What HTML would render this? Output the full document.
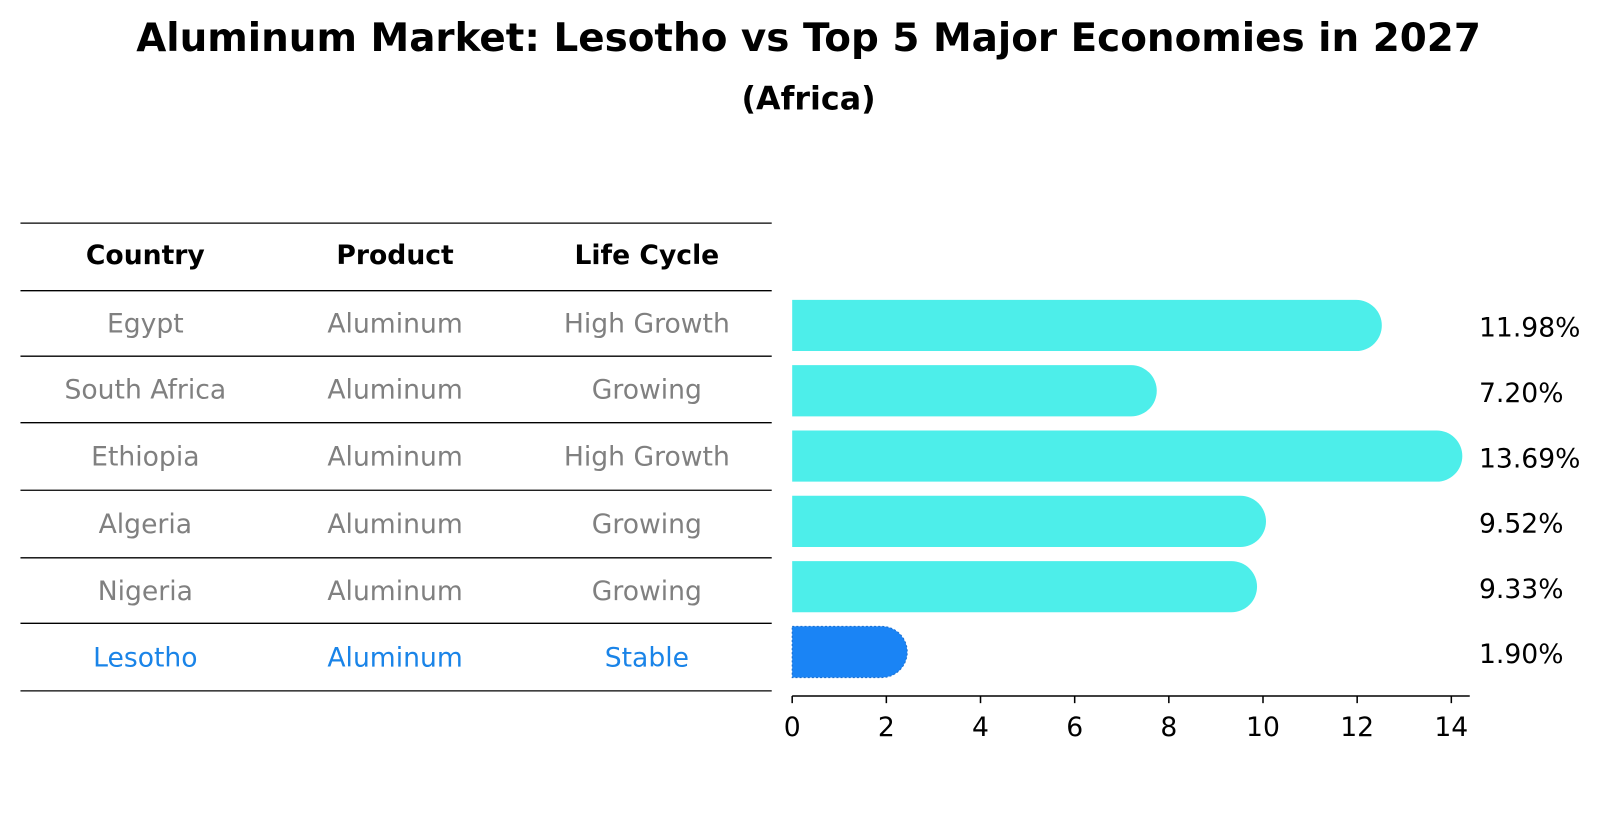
<!DOCTYPE html>
<html><head><meta charset="utf-8"><style>
body{margin:0;background:#fff;font-family:"DejaVu Sans","Liberation Sans",sans-serif;}
#wrap{position:relative;width:1604px;height:823px;overflow:hidden;}
</style></head><body>
<div id="wrap">
<svg id="svg" width="1604" height="823" font-family="DejaVu Sans, Liberation Sans, sans-serif">
<g transform="scale(1.0235)">
<text x="790" y="50" text-anchor="middle" font-size="38" font-weight="bold">Aluminum Market: Lesotho vs Top 5 Major Economies in 2027</text>
<text x="790" y="107" text-anchor="middle" font-size="31" font-weight="bold">(Africa)</text>
<g id="table"></g>
<g id="bars"></g>
</g>
</svg>
</div>
<script>
const countries=["Egypt","South Africa","Ethiopia","Algeria","Nigeria","Lesotho"];
const products=["Aluminum","Aluminum","Aluminum","Aluminum","Aluminum","Aluminum"];
const lifecycles=["High Growth","Growing","High Growth","Growing","Growing","Stable"];
const values=[11.98,7.20,13.69,9.52,9.33,1.90];
const valueLabels=["11.98%","7.20%","13.69%","9.52%","9.33%","1.90%"];
const ticks=[0,2,4,6,8,10,12,14];
const NS="http://www.w3.org/2000/svg";
function mk(tag,attrs,parent){const e=document.createElementNS(NS,tag);for(const k in attrs)e.setAttribute(k,attrs[k]);parent.appendChild(e);return e;}
const xs=v=>774+v*46;
const ys=i=>318+i*63.8;
const tbl=document.getElementById('table');
const lineYs=[218,284,348,413,479,545,609,675];
lineYs.forEach((y,i)=>{const l=mk('line',{x1:20,x2:754,y1:y,y2:y,stroke:'#000','stroke-width':1.3},tbl);

});
const colX=[142,386,632];
["Country","Product","Life Cycle"].forEach((h,j)=>{const t=mk('text',{x:colX[j],y:258,'text-anchor':'middle','font-size':26,'font-weight':'bold'},tbl);t.textContent=h;

});
countries.forEach((c,i)=>{const col=c==="Lesotho"?"#1a84e8":"#808080";const y=(lineYs[i+1]+lineYs[i+2])/2+9;
[c,products[i],lifecycles[i]].forEach((s,j)=>{const t=mk('text',{x:colX[j],y:y,'text-anchor':'middle','font-size':26,fill:col},tbl);t.textContent=s;

});});
const bg=document.getElementById('bars');
const h=50,r=25;
values.forEach((v,i)=>{const les=countries[i]==="Lesotho";const col=les?"#1a84f5":"#4deeea";
const x0=xs(0),x1=xs(v),yc=ys(i);
const d=`M${x0},${yc-h/2} L${x1},${yc-h/2} A${r},${r} 0 0 1 ${x1},${yc+h/2} L${x0},${yc+h/2} Z`;
const p=mk('path',{d:d,fill:col},bg);
if(les){p.setAttribute('stroke','#1a6fd0');p.setAttribute('stroke-dasharray','2,2');p.setAttribute('stroke-width','1');}


const t=mk('text',{x:1445,y:yc+11,'font-size':26},bg);t.textContent=valueLabels[i];

});
const ax=mk('line',{x1:774,x2:1436,y1:680,y2:680,stroke:'#000','stroke-width':1.5},bg);


ticks.forEach(tv=>{const tk=mk('line',{x1:xs(tv),x2:xs(tv),y1:680,y2:687,stroke:'#000','stroke-width':1.5},bg);


const t=mk('text',{x:xs(tv),y:719,'text-anchor':'middle','font-size':26},bg);t.textContent=tv;

});
</script>
</body></html>
